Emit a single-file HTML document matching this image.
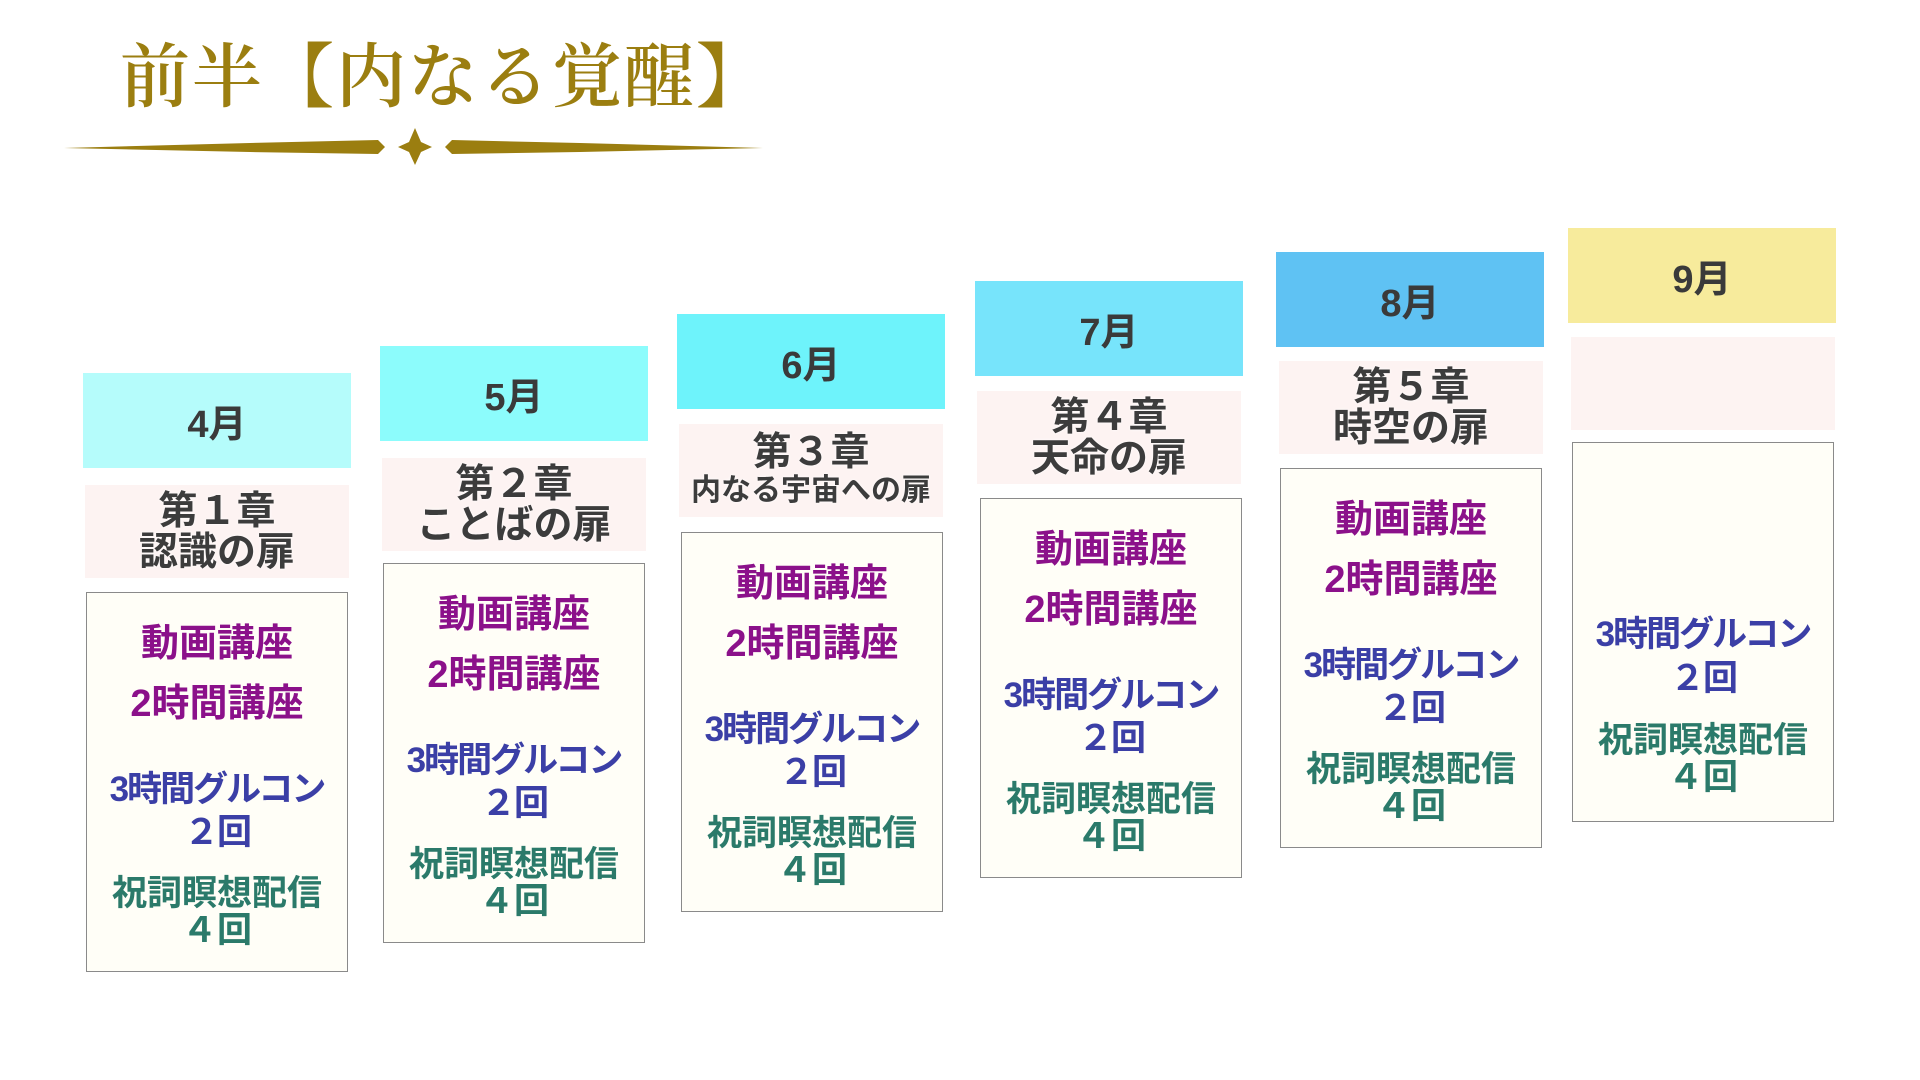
<!DOCTYPE html>
<html><head><meta charset="utf-8"><style>
body{margin:0;width:1920px;height:1080px;background:#fff;position:relative;overflow:hidden;font-family:"Liberation Sans","Noto Sans CJK JP",sans-serif;font-weight:bold}
.a{position:absolute}
.m{position:absolute;width:268px;height:95px;display:flex;align-items:center;justify-content:center;font-size:38px;color:#3a3a3a}
.c{position:absolute;width:264px;height:93px;background:#fdf3f2;display:flex;flex-direction:column;align-items:center;justify-content:center;color:#3c3c3c;font-size:39px;line-height:41px;text-shadow:0 0 3px #fff}
.b{position:absolute;width:262px;height:380px;background:#fffef7;border:1px solid #8a8a8a;box-sizing:border-box}
.t{position:absolute;left:0;width:100%;text-align:center;height:44px;line-height:44px;white-space:nowrap}
.p{color:#8b118a;font-size:38px}
.u{color:#3b3fa6;font-size:35px;letter-spacing:-2px}
.g{color:#2b7a6a;font-size:35px}
</style></head><body>
<div class="a" style="left:120px;top:34px;font-family:'Liberation Serif','Noto Serif CJK SC',serif;font-size:70px;line-height:90px;color:#9b7e10;font-weight:600;letter-spacing:2px">前半【内なる覚醒】</div>
<svg class="a" style="left:0;top:0" width="800" height="200">
<polygon points="64,148 250,143 378,140 385,147 378,154 250,152" fill="#9b7e10"/>
<polygon points="763,148 580,143 452,140 445,147 452,154 580,152" fill="#9b7e10"/>
<polygon points="415,128 421,142 432,147 421,152 415,165 409,152 398,147 409,142" fill="#9b7e10"/>
</svg>

<!-- col1 -->
<div class="m" style="left:83px;top:373px;background:#b5fcfb">4月</div>
<div class="c" style="left:85px;top:485px"><div>第１章</div><div>認識の扉</div></div>
<div class="b" style="left:86px;top:592px">
<div class="t p" style="top:29px">動画講座</div><div class="t p" style="top:89px">2時間講座</div>
<div class="t u" style="top:175px">3時間グルコン</div><div class="t u" style="top:218px">２回</div>
<div class="t g" style="top:279px">祝詞瞑想配信</div><div class="t g" style="top:316px">４回</div></div>

<!-- col2 -->
<div class="m" style="left:380px;top:346px;background:#8cfcfc">5月</div>
<div class="c" style="left:382px;top:458px"><div>第２章</div><div>ことばの扉</div></div>
<div class="b" style="left:383px;top:563px">
<div class="t p" style="top:29px">動画講座</div><div class="t p" style="top:89px">2時間講座</div>
<div class="t u" style="top:175px">3時間グルコン</div><div class="t u" style="top:218px">２回</div>
<div class="t g" style="top:279px">祝詞瞑想配信</div><div class="t g" style="top:316px">４回</div></div>

<!-- col3 -->
<div class="m" style="left:677px;top:314px;background:#6ef3fb">6月</div>
<div class="c" style="left:679px;top:424px"><div>第３章</div><div style="font-size:30px;line-height:36px">内なる宇宙への扉</div></div>
<div class="b" style="left:681px;top:532px">
<div class="t p" style="top:29px">動画講座</div><div class="t p" style="top:89px">2時間講座</div>
<div class="t u" style="top:175px">3時間グルコン</div><div class="t u" style="top:218px">２回</div>
<div class="t g" style="top:279px">祝詞瞑想配信</div><div class="t g" style="top:316px">４回</div></div>

<!-- col4 -->
<div class="m" style="left:975px;top:281px;background:#77e4fb">7月</div>
<div class="c" style="left:977px;top:391px"><div>第４章</div><div>天命の扉</div></div>
<div class="b" style="left:980px;top:498px">
<div class="t p" style="top:29px">動画講座</div><div class="t p" style="top:89px">2時間講座</div>
<div class="t u" style="top:175px">3時間グルコン</div><div class="t u" style="top:218px">２回</div>
<div class="t g" style="top:279px">祝詞瞑想配信</div><div class="t g" style="top:316px">４回</div></div>

<!-- col5 -->
<div class="m" style="left:1276px;top:252px;background:#5fc2f3">8月</div>
<div class="c" style="left:1279px;top:361px"><div>第５章</div><div>時空の扉</div></div>
<div class="b" style="left:1280px;top:468px">
<div class="t p" style="top:29px">動画講座</div><div class="t p" style="top:89px">2時間講座</div>
<div class="t u" style="top:175px">3時間グルコン</div><div class="t u" style="top:218px">２回</div>
<div class="t g" style="top:279px">祝詞瞑想配信</div><div class="t g" style="top:316px">４回</div></div>

<!-- col6 -->
<div class="m" style="left:1568px;top:228px;background:#f7eb9c">9月</div>
<div class="c" style="left:1571px;top:337px"></div>
<div class="b" style="left:1572px;top:442px">
<div class="t u" style="top:170px">3時間グルコン</div><div class="t u" style="top:214px">２回</div>
<div class="t g" style="top:276px">祝詞瞑想配信</div><div class="t g" style="top:313px">４回</div></div>
</body></html>
